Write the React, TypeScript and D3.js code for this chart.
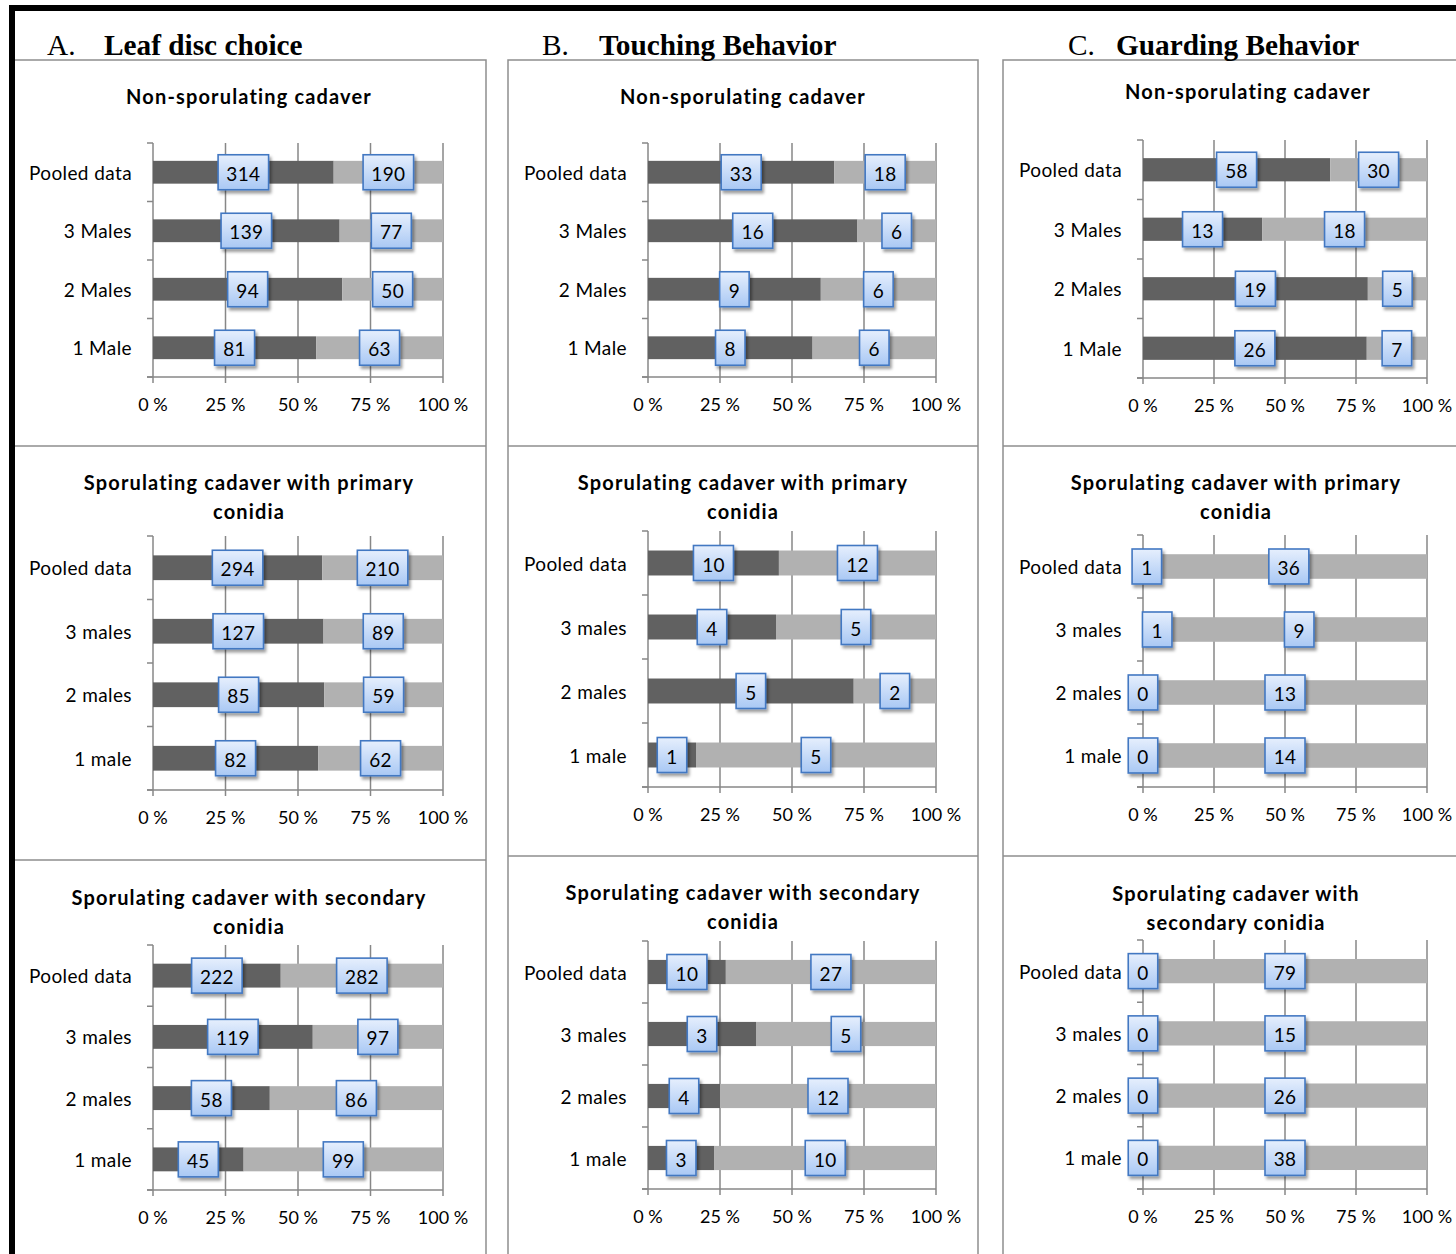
import React from "react";
import * as d3 from "d3";

// ---------- data ----------
const rowsCap = ["Pooled data", "3 Males", "2 Males", "1 Male"];
const rowsLow = ["Pooled data", "3 males", "2 males", "1 male"];
const tickValues = [0, 0.25, 0.5, 0.75, 1];
const tickLabels = ["0 %", "25 %", "50 %", "75 %", "100 %"];

const headings = [
  { letter: "A.", name: "Leaf disc choice" },
  { letter: "B.", name: "Touching Behavior" },
  { letter: "C.", name: "Guarding Behavior" },
];

const titleNon = ["Non-sporulating cadaver"];
const titlePrimary = ["Sporulating cadaver with primary", "conidia"];
const titleSecondary = ["Sporulating cadaver with secondary", "conidia"];
const titleSecondaryC = ["Sporulating cadaver with", "secondary conidia"];

// A. Leaf disc choice
const leafNonDark = [314, 139, 94, 81];
const leafNonLight = [190, 77, 50, 63];
const leafPrimDark = [294, 127, 85, 82];
const leafPrimLight = [210, 89, 59, 62];
const leafSecDark = [222, 119, 58, 45];
const leafSecLight = [282, 97, 86, 99];
// B. Touching behavior
const touchNonDark = [33, 16, 9, 8];
const touchNonLight = [18, 6, 6, 6];
const touchPrimDark = [10, 4, 5, 1];
const touchPrimLight = [12, 5, 2, 5];
const touchSecDark = [10, 3, 4, 3];
const touchSecLight = [27, 5, 12, 10];
// C. Guarding behavior
const guardNonDark = [58, 13, 19, 26];
const guardNonLight = [30, 18, 5, 7];
const guardPrimDark = [1, 1, 0, 0];
const guardPrimLight = [36, 9, 13, 14];
const guardSecDark = [0, 0, 0, 0];
const guardSecLight = [79, 15, 26, 38];

// ---------- layout ----------
const W = 1456;
const H = 1254;
const DARK = "#616161";
const LIGHT = "#b1b1b1";
const GRID = "#878787";
const FRAME = "#8e8e8e";
const SANS = "Lato, 'Open Sans', sans-serif";
const SERIF = "'Liberation Serif', 'Times New Roman', serif";

const columns = [
  { left: 13, right: 486, rows: [60, 446, 860], headX: 47, nameX: 104 },
  { left: 508, right: 978, rows: [60, 446, 856], headX: 542, nameX: 599 },
  { left: 1003, right: 1500, rows: [60, 446, 856], headX: 1068, nameX: 1116 },
];

const panels = [
  { rows: rowsCap, dark: leafNonDark, light: leafNonLight, title: titleNon, tx: 249, ty: 96, x0: 153, x1: 443, top: 143, bottom: 377 },
  { rows: rowsLow, dark: leafPrimDark, light: leafPrimLight, title: titlePrimary, tx: 249, ty: 482, x0: 153, x1: 443, top: 536, bottom: 790 },
  { rows: rowsLow, dark: leafSecDark, light: leafSecLight, title: titleSecondary, tx: 249, ty: 897, x0: 153, x1: 443, top: 945, bottom: 1190 },
  { rows: rowsCap, dark: touchNonDark, light: touchNonLight, title: titleNon, tx: 743, ty: 96, x0: 648, x1: 936, top: 143, bottom: 377 },
  { rows: rowsLow, dark: touchPrimDark, light: touchPrimLight, title: titlePrimary, tx: 743, ty: 482, x0: 648, x1: 936, top: 531, bottom: 787 },
  { rows: rowsLow, dark: touchSecDark, light: touchSecLight, title: titleSecondary, tx: 743, ty: 892, x0: 648, x1: 936, top: 941, bottom: 1189 },
  { rows: rowsCap, dark: guardNonDark, light: guardNonLight, title: titleNon, tx: 1248, ty: 91, x0: 1143, x1: 1427, top: 140, bottom: 378 },
  { rows: rowsLow, dark: guardPrimDark, light: guardPrimLight, title: titlePrimary, tx: 1236, ty: 482, x0: 1143, x1: 1427, top: 535, bottom: 787 },
  { rows: rowsLow, dark: guardSecDark, light: guardSecLight, title: titleSecondaryC, tx: 1236, ty: 893, x0: 1143, x1: 1427, top: 940, bottom: 1189 },
];

function LabelBox({ cx, cy, value }: { cx: number; cy: number; value: number }) {
  const s = String(value);
  const w = 19 + 10.5 * s.length;
  const h = 35;
  return (
    <g>
      <rect
        x={cx - w / 2}
        y={cy - h / 2}
        width={w}
        height={h}
        fill="url(#lblGrad)"
        stroke="#4378c2"
        strokeWidth={1.6}
        filter="url(#lblShadow)"
      />
      <text x={cx} y={cy + 1} textAnchor="middle" dominantBaseline="central" fontFamily={SANS} fontSize={19} letterSpacing={0.3} fill="#000">
        {s}
      </text>
    </g>
  );
}

function Panel({ p }: { p: (typeof panels)[number] }) {
  const x = d3.scaleLinear().domain([0, 1]).range([p.x0, p.x1]);
  const y = d3
    .scaleBand<string>()
    .domain(p.rows)
    .range([p.top, p.bottom])
    .paddingInner(0.61)
    .paddingOuter(0.305);
  const step = y.step();
  const fracs = p.dark.map((d, i) => d / (d + p.light[i]));
  return (
    <g>
      {p.title.map((t, i) => (
        <text key={i} x={p.tx} y={p.ty + i * 29} textAnchor="middle" dominantBaseline="central" fontFamily={SANS} fontWeight={700} fontSize={20} letterSpacing={1.15} fill="#000">
          {t}
        </text>
      ))}
      {/* gridlines */}
      {tickValues.slice(1).map((t) => (
        <line key={t} x1={x(t)} x2={x(t)} y1={p.top} y2={p.bottom + 6} stroke={GRID} strokeWidth={1.5} />
      ))}
      {/* axes */}
      <line x1={p.x0} x2={p.x0} y1={p.top} y2={p.bottom + 6} stroke={GRID} strokeWidth={1.5} />
      <line x1={p.x0 - 6} x2={p.x1} y1={p.bottom} y2={p.bottom} stroke={GRID} strokeWidth={1.5} />
      {d3.range(p.rows.length + 1).map((i) => (
        <line key={i} x1={p.x0 - 6} x2={p.x0} y1={p.top + i * step} y2={p.top + i * step} stroke={GRID} strokeWidth={1.5} />
      ))}
      {tickValues.map((t, i) => (
        <text key={t} x={x(t)} y={p.bottom + 27} textAnchor="middle" dominantBaseline="central" fontFamily={SANS} fontSize={18} fill="#000">
          {tickLabels[i]}
        </text>
      ))}
      {/* bars */}
      {p.rows.map((r, i) => {
        const by = y(r)!;
        const bh = y.bandwidth();
        return (
          <g key={r}>
            <rect x={x(0)} y={by} width={x(fracs[i]) - x(0)} height={bh} fill={DARK} />
            <rect x={x(fracs[i])} y={by} width={x(1) - x(fracs[i])} height={bh} fill={LIGHT} />
            <text x={p.x0 - 21} y={by + bh / 2} textAnchor="end" dominantBaseline="central" fontFamily={SANS} fontSize={19} letterSpacing={0.4} fill="#000">
              {r}
            </text>
          </g>
        );
      })}
      {/* data labels */}
      {p.rows.map((r, i) => {
        const cy = y(r)! + y.bandwidth() / 2;
        return (
          <g key={r}>
            <LabelBox cx={x(fracs[i] / 2)} cy={cy} value={p.dark[i]} />
            <LabelBox cx={x((fracs[i] + 1) / 2)} cy={cy} value={p.light[i]} />
          </g>
        );
      })}
    </g>
  );
}

export default function App() {
  return (
    <div style={{ position: "absolute", left: 0, top: 0 }}>
      <svg width={W} height={H} viewBox={`0 0 ${W} ${H}`} style={{ display: "block", background: "#fff" }}>
        <defs>
          <linearGradient id="lblGrad" x1="0" y1="0" x2="0" y2="1">
            <stop offset="0" stopColor="#e6effd" />
            <stop offset="1" stopColor="#a9c8f4" />
          </linearGradient>
          <filter id="lblShadow" x="-30%" y="-30%" width="170%" height="170%">
            <feDropShadow dx="2" dy="3" stdDeviation="1.6" floodColor="#000" floodOpacity="0.38" />
          </filter>
        </defs>
        <rect x={0} y={0} width={W} height={H} fill="#fff" />
        {/* panel frames */}
        {columns.map((c, ci) => (
          <g key={ci}>
            <rect x={c.left} y={c.rows[0]} width={c.right - c.left} height={H + 20 - c.rows[0]} fill="none" stroke={FRAME} strokeWidth={1.5} />
            {c.rows.slice(1).map((ry) => (
              <line key={ry} x1={c.left} x2={c.right} y1={ry} y2={ry} stroke={FRAME} strokeWidth={1.5} />
            ))}
            <text x={c.headX} y={55} fontFamily={SERIF} fontSize={29.3} fill="#000">
              {headings[ci].letter}
            </text>
            <text x={c.nameX} y={55} fontFamily={SERIF} fontWeight={700} fontSize={29.3} fill="#000">
              {headings[ci].name}
            </text>
          </g>
        ))}
        {panels.map((p, i) => (
          <Panel key={i} p={p} />
        ))}
        {/* thick outer frame */}
        <rect x={9} y={5} width={W} height={6} fill="#000" />
        <rect x={9} y={5} width={6} height={H} fill="#000" />
      </svg>
    </div>
  );
}
